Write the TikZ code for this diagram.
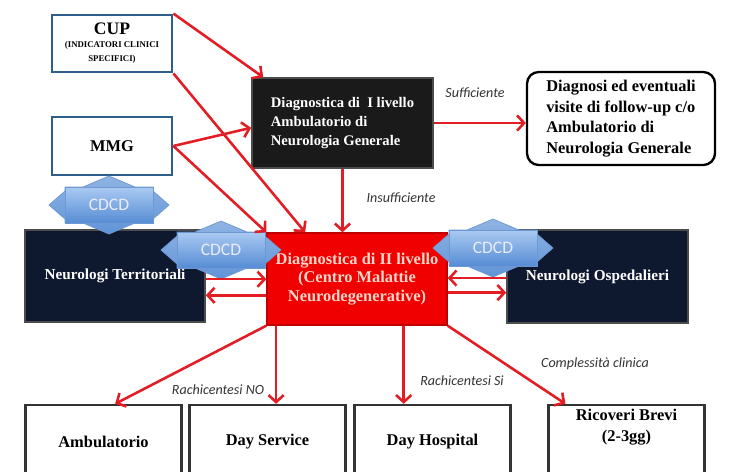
\documentclass[tikz,border=0pt]{standalone}
\usepackage{fontspec}
\setmainfont{Liberation Serif}
\newfontfamily\labfont{Carlito}
\usetikzlibrary{arrows.meta}

\definecolor{arrred}{RGB}{226,30,36}
\definecolor{cupblue}{RGB}{46,94,140}
\definecolor{navy}{RGB}{14,24,46}
\definecolor{nearblack}{RGB}{26,26,26}
\definecolor{boxred}{RGB}{240,0,0}
\definecolor{pinktext}{RGB}{250,214,200}
\definecolor{cdtop}{RGB}{170,202,242}
\definecolor{cdbot}{RGB}{86,140,212}
\definecolor{cdtip}{RGB}{96,148,216}
\definecolor{cdedge}{RGB}{110,152,210}

\newlength\pxu
\setlength\pxu{0.03cm}

\tikzset{
  bluebox/.style={draw=cupblue, line width=2.4pt, fill=white, font=\rmfamily\bfseries, align=center, inner sep=0pt},
  darkbox/.style={fill=#1, draw=gray!60!black, line width=1.4pt, text=white, inner sep=0pt},
  lowbox/.style={draw=black!80, line width=2pt, font=\rmfamily\bfseries\fontsize{14}{18.5}\selectfont, align=center,
    minimum width={156*\pxu}, minimum height={74*\pxu}, inner sep=0pt},
  arr/.style={draw=arrred, line width=2.2pt, -{Straight Barb[length=6pt,width=13pt]}},
  lab/.style={font=\labfont\itshape\fontsize{12}{14}\selectfont, text=black!80},
  cdcdtext/.style={font=\labfont\fontsize{15}{16}\selectfont, text=white!92!blue},
}

% CDCD badge: name, centre
\newcommand\cdcd[2]{%
  \shadedraw[top color=cdtip!70!white, bottom color=cdtip, draw=cdedge, line width=0.6pt]
    (#2) ++(-44,-18) -- ++(18,0) -- ++(26,-11) -- ++(26,11) -- ++(18,0) -- ++(0,4) -- ++(16,14)
    -- ++(-16,14) -- ++(0,4) -- ++(-18,0) -- ++(-26,11) -- ++(-26,-11) -- ++(-18,0) -- ++(0,-4)
    -- ++(-16,-14) -- ++(16,-14) -- cycle;
  \shadedraw[top color=cdtop, bottom color=cdbot, draw=cdedge, line width=0.6pt]
    (#2) ++(-44,-18) rectangle ++(88,36);
  \node[cdcdtext] (#1) at (#2) {CDCD};}

\begin{document}
\begin{tikzpicture}[x=0.03cm,y=-0.03cm]
  \useasboundingbox (0,0) rectangle (730,471);
  \clip (0,0) rectangle (730,471);

  % entry points
  \node[bluebox, minimum width={120*\pxu}, minimum height={57*\pxu}] (cup) at (112,43.5)
    {\fontsize{15}{16}\selectfont CUP\\[-1pt]\fontsize{7.5}{9}\selectfont (INDICATORI CLINICI\\\fontsize{7.5}{9}\selectfont SPECIFICI)};
  \node[bluebox, minimum width={120*\pxu}, minimum height={58*\pxu}, font=\rmfamily\bfseries\fontsize{14}{16}\selectfont] (mmg) at (112,146) {MMG};

  % first and second level
  \node[darkbox=nearblack, minimum width={181*\pxu}, minimum height={90*\pxu}, align=left,
    font=\rmfamily\bfseries\fontsize{12.5}{16}\selectfont] (d1) at (342.5,123)
    {Diagnostica di\ \ I livello\\Ambulatorio di\\Neurologia Generale};
  \node[draw=black, line width=2pt, rounded corners=10pt, minimum width={188*\pxu}, minimum height={93*\pxu},
    align=left, inner sep=0pt, font=\rmfamily\bfseries\fontsize{14}{17.5}\selectfont] (dx) at (621,118.5)
    {Diagnosi ed eventuali\\visite di follow-up c/o\\Ambulatorio di\\Neurologia Generale};
  \node[darkbox=navy, minimum width={180*\pxu}, minimum height={92*\pxu},
    font=\rmfamily\bfseries\fontsize{13}{16}\selectfont] (nt) at (115,276) {Neurologi Territoriali};
  \node[darkbox=navy, minimum width={181*\pxu}, minimum height={93*\pxu},
    font=\rmfamily\bfseries\fontsize{13}{16}\selectfont] (no) at (597.5,276.5) {Neurologi Ospedalieri};
  \node[fill=boxred, draw=red!75!black, line width=1.2pt, minimum width={180*\pxu}, minimum height={92*\pxu},
    text=pinktext, align=center, inner sep=0pt, font=\rmfamily\bfseries\fontsize{14}{16}\selectfont] (d2) at (357,279)
    {Diagnostica di II livello\\(Centro Malattie\\Neurodegenerative)};

  % settings of care
  \node[lowbox] (amb) at (103.5,442) {Ambulatorio};
  \node[lowbox] (dsv) at (267.5,442) {Day Service};
  \node[lowbox] (dh) at (432.5,442) {Day Hospital};
  \node[lowbox] (ric) at (626.5,442) {Ricoveri Brevi\\(2-3gg)\\[10pt]\mbox{}};

  \cdcd{cA}{109,205}
  \cdcd{cB}{221,250}
  \cdcd{cC}{493,248}

  % arrows
  \draw[arr] (cup.north east) -- (d1.150);
  \draw[arr] (cup.south east) -- (d2.138);
  \draw[arr] (mmg.east) -- (d1.183);
  \draw[arr] (mmg.east) -- (d2.north west);
  \draw[arr] (d1.south) -- (d1.south |- d2.north);
  \draw[arr] (d1.east) -- (d1.east -| dx.west);
  \draw[arr] (nt.-2.5) -- (nt.-2.5 -| d2.west);
  \draw[arr] (nt.-12 -| d2.west) -- (nt.-12);
  \draw[arr] (no.181) -- (no.181 -| d2.east);
  \draw[arr] (no.190 -| d2.east) -- (no.190);
  \draw[arr] (d2.south west) -- (amb.73);
  \draw[arr] (d2.210) -- (d2.210 |- dsv.north);
  \draw[arr] (d2.-45) -- (d2.-45 |- dh.north);
  \draw[arr] (d2.south east) -- (ric.148);

  \node[lab] (suff) at (475,93) {Sufficiente};
  \node[lab] (insuff) at (401,198) {Insufficiente};
  \node[lab] (rno) at (218,390) {Rachicentesi NO};
  \node[lab] (rsi) at (462,381) {Rachicentesi Si};
  \node[lab] (compl) at (595,364) {Complessità clinica};
\end{tikzpicture}
\end{document}
